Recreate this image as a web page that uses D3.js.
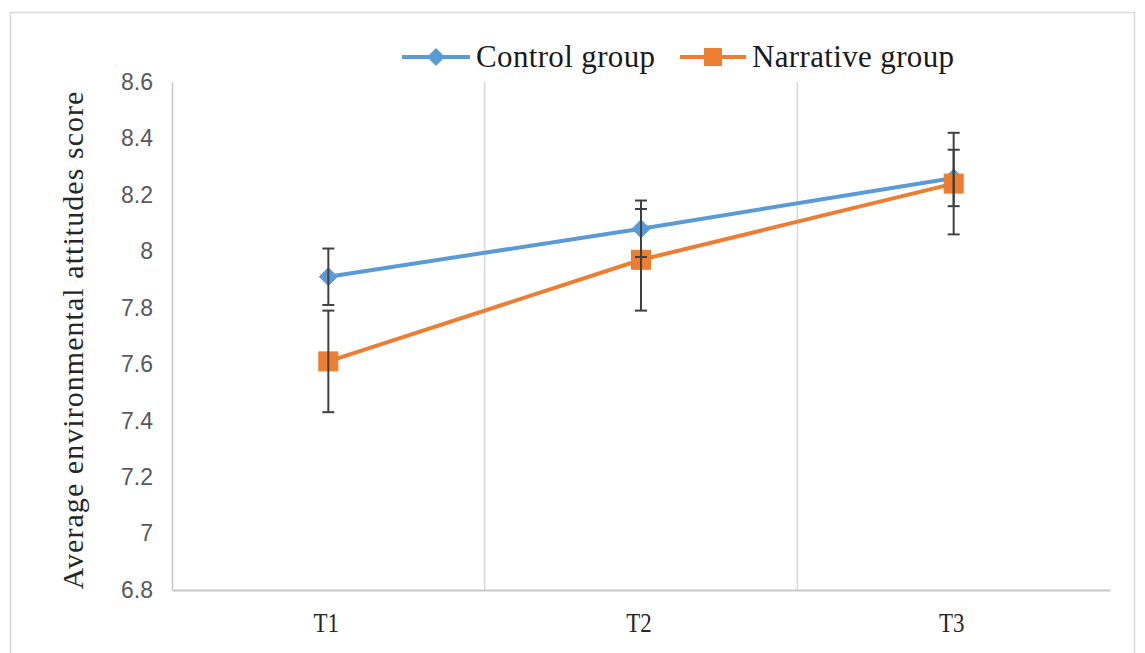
<!DOCTYPE html>
<html>
<head>
<meta charset="utf-8">
<script src="https://cdn.jsdelivr.net/npm/d3@7"></script>
<style>
  html, body { margin: 0; padding: 0; background: #fff; }
  svg { display: block; }
</style>
</head>
<body>
<svg id="chart" width="1145" height="653"></svg>
<script>
// Measurement occasions
const times = ["T1", "T2", "T3"];
// Mean scores per group
const controlMeans = [7.91, 8.08, 8.26];
const narrativeMeans = [7.61, 7.97, 8.24];
// Error bar half-widths
const controlErr = [0.10, 0.10, 0.10];
const narrativeErr = [0.18, 0.18, 0.18];
// Y axis ticks
const yTicks = [6.8, 7.0, 7.2, 7.4, 7.6, 7.8, 8.0, 8.2, 8.4, 8.6];
const seriesNames = ["Control group", "Narrative group"];
const yTitle = "Average environmental attitudes score";

const svg = d3.select("#chart");
const plot = { left: 172, right: 1110, top: 82, bottom: 590 };
const serif = "'Liberation Serif', 'Times New Roman', serif";

const series = [
  { name: seriesNames[0], means: controlMeans, err: controlErr, color: "#5b9bd5", shape: "diamond" },
  { name: seriesNames[1], means: narrativeMeans, err: narrativeErr, color: "#ed7d31", shape: "square" }
];

// outer frame
svg.append("rect").attr("x", 10.5).attr("y", 12.5).attr("width", 1124).attr("height", 660)
  .attr("fill", "none").attr("stroke", "#d9d9d9").attr("stroke-width", 1.5);

const x = d3.scaleBand().domain(times).range([plot.left, plot.right]);
const y = d3.scaleLinear().domain([6.8, 8.6]).range([plot.bottom, plot.top]);

// vertical gridlines between categories
svg.append("g").selectAll("line").data(times.slice(1)).join("line")
  .attr("x1", d => x(d)).attr("x2", d => x(d))
  .attr("y1", plot.top).attr("y2", plot.bottom)
  .attr("stroke", "#d9d9d9").attr("stroke-width", 1.5);

// y axis
const yAxis = d3.axisLeft(y).tickValues(yTicks).tickSize(0).tickPadding(19)
  .tickFormat(d => String(+d.toFixed(1)));
const gy = svg.append("g").attr("transform", `translate(${plot.left},0)`).call(yAxis);
gy.select(".domain").attr("stroke", "#c8c8c8").attr("stroke-width", 1.5);
gy.selectAll("text").attr("font-family", "'Liberation Sans', Arial, sans-serif")
  .attr("font-size", 23).attr("fill", "#595959");

// x axis with narrow serif labels
const xAxis = d3.axisBottom(x).tickSize(0).tickPadding(0);
const gx = svg.append("g").attr("transform", `translate(0,${plot.bottom})`).call(xAxis);
gx.select(".domain").attr("stroke", "#c8c8c8").attr("stroke-width", 2);
gx.selectAll(".tick text")
  .attr("font-family", serif).attr("font-size", 27).attr("fill", "#262626")
  .attr("dy", null).attr("y", 42)
  .attr("transform", "translate(-2,0) scale(0.85,1)");

// y axis title
svg.append("text")
  .attr("transform", `translate(83,${340}) rotate(-90)`)
  .attr("text-anchor", "middle")
  .attr("font-family", serif)
  .attr("font-size", 30).attr("letter-spacing", 1.05).attr("fill", "#262626")
  .text(yTitle);

const cx = t => x(t) + x.bandwidth() / 2;

function marker(g, shape, color, px, py, s) {
  if (shape === "diamond") {
    g.append("path")
      .attr("d", `M${px},${py - s}L${px + s},${py}L${px},${py + s}L${px - s},${py}Z`)
      .attr("fill", color).attr("stroke", color).attr("stroke-width", 1);
  } else {
    g.append("rect").attr("x", px - s).attr("y", py - s).attr("width", 2 * s).attr("height", 2 * s)
      .attr("fill", color).attr("stroke", color).attr("stroke-width", 1);
  }
}

const line = d3.line().x((d, i) => cx(times[i])).y(d => y(d));

series.forEach(s => {
  const g = svg.append("g");
  g.append("path").datum(s.means).attr("d", line)
    .attr("fill", "none").attr("stroke", s.color).attr("stroke-width", 4);
  s.means.forEach((m, i) => marker(g, s.shape, s.color, cx(times[i]), y(m), s.shape === "diamond" ? 9 : 9.5));
});

// error bars on top of markers
series.forEach(s => {
  const g = svg.append("g").attr("stroke", "#404040").attr("stroke-width", 2);
  s.means.forEach((m, i) => {
    const px = cx(times[i]);
    const lo = y(m - s.err[i]), hi = y(m + s.err[i]);
    g.append("line").attr("x1", px).attr("x2", px).attr("y1", lo).attr("y2", hi);
    g.append("line").attr("x1", px - 6).attr("x2", px + 6).attr("y1", lo).attr("y2", lo);
    g.append("line").attr("x1", px - 6).attr("x2", px + 6).attr("y1", hi).attr("y2", hi);
  });
});

// legend
const legend = svg.append("g");
const legendItems = [
  { s: series[0], x0: 402, x1: 470, tx: 476 },
  { s: series[1], x0: 680, x1: 746, tx: 752 }
];
legendItems.forEach(it => {
  const ly = 57;
  legend.append("line").attr("x1", it.x0).attr("x2", it.x1).attr("y1", ly).attr("y2", ly)
    .attr("stroke", it.s.color).attr("stroke-width", 4);
  marker(legend, it.s.shape, it.s.color, (it.x0 + it.x1) / 2, ly, 8.5);
  legend.append("text").attr("x", it.tx).attr("y", ly + 10)
    .attr("font-family", serif)
    .attr("font-size", 31).attr("letter-spacing", 0.35).attr("fill", "#1a1a1a")
    .text(it.s.name);
});
</script>
</body>
</html>
